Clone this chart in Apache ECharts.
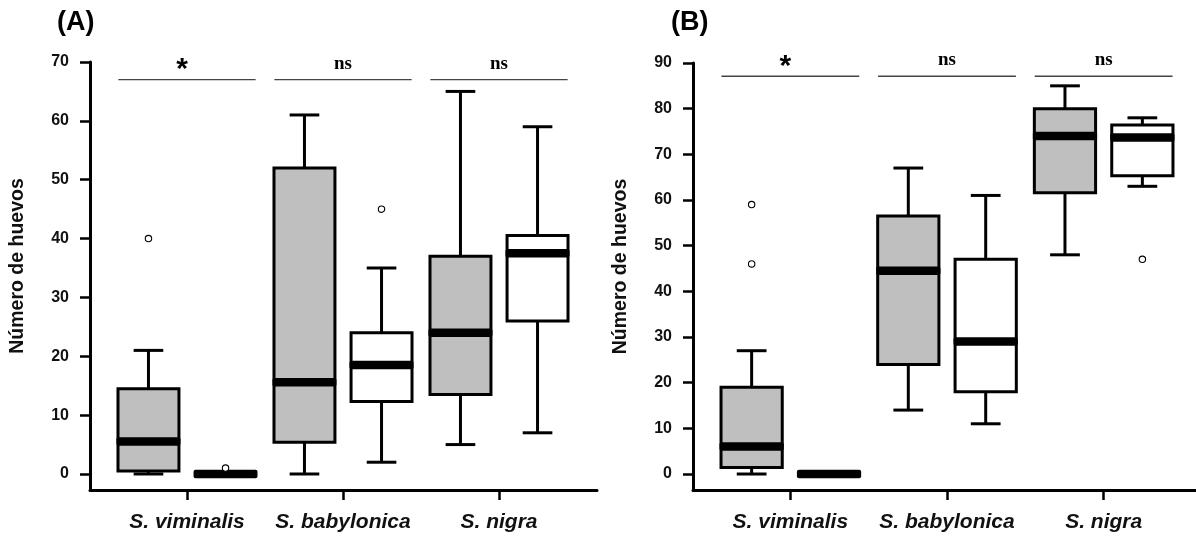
<!DOCTYPE html>
<html><head><meta charset="utf-8">
<script src="https://cdn.jsdelivr.net/npm/echarts@6/dist/echarts.min.js"></script>
<style>html,body{margin:0;padding:0;background:#fff}#c{width:1196px;height:536px}</style>
</head><body><div id="c"></div>
<script>
// ---- data ----
const categories = ['S. viminalis', 'S. babylonica', 'S. nigra'];
const yTicksA = [0, 10, 20, 30, 40, 50, 60, 70];
const yTicksB = [0, 10, 20, 30, 40, 50, 60, 70, 80, 90];
// each row: [min, q1, median, q3, max]
const boxAGrey  = [[0, 0.5, 5.5, 14.5, 21], [0, 5.4, 15.6, 52, 61], [5, 13.5, 24, 37, 65]];
const boxAWhite = [[0, 0, 0, 0, 0], [2, 12.3, 18.5, 24, 35], [7, 26, 37.5, 40.5, 59]];
const outAGrey  = [[0, 40]];
const outAWhite = [[0, 1], [1, 45]];
const boxBGrey  = [[0, 1.4, 6, 19, 27], [14, 24, 44.5, 56.5, 67], [48, 61.6, 74, 80, 85]];
const boxBWhite = [[0, 0, 0, 0, 0], [11, 18, 29, 47, 61], [63, 65.3, 73.7, 76.4, 78]];
const outBGrey  = [[0, 59], [0, 46]];
const outBWhite = [[2, 47]];
const sigLabels = ['*', 'ns', 'ns'];
const sigLevelA = 67;
const sigLevelB = 87.1;
const yName = 'Número de huevos';

// ---- styling constants ----
const SANS = '"Liberation Sans", Arial, sans-serif';
const SERIF = '"Liberation Serif", "Times New Roman", serif';
const LW = 3;
const BOX_W = 0.41;
const OFF = 0.247;
const CAP_W = 0.19;
const MED_H = 8.5;
const GREY = '#bfbfbf';

function makeBox(offset, fill) {
  return function (params, api) {
    const i = api.value(0);
    const band = api.size([1, 0])[0];
    const cx = api.coord([i, 0])[0] + offset * band;
    const outerW = BOX_W * band;
    const w = outerW - LW;
    const y = k => api.coord([i, api.value(k)])[1];
    const yMin = y(1), yQ1 = y(2), yMed = y(3), yQ3 = y(4), yMax = y(5);
    const capHalf = CAP_W * band / 2;
    const ls = { stroke: '#000', lineWidth: LW, fill: null };
    const ch = [];
    if (yMax < yQ3 - 0.5) {
      ch.push({ type: 'line', shape: { x1: cx, y1: yQ3, x2: cx, y2: yMax }, style: ls });
      ch.push({ type: 'line', shape: { x1: cx - capHalf, y1: yMax, x2: cx + capHalf, y2: yMax }, style: ls });
    }
    if (yMin > yQ1 + 0.5) {
      ch.push({ type: 'line', shape: { x1: cx, y1: yQ1, x2: cx, y2: yMin }, style: ls });
    }
    if (yMin > yQ1 + 0.5 || api.value(1) === 0 && api.value(2) > 0) {
      ch.push({ type: 'line', shape: { x1: cx - capHalf, y1: yMin, x2: cx + capHalf, y2: yMin }, style: ls });
    }
    ch.push({ type: 'rect', shape: { x: cx - w / 2, y: yQ3, width: w, height: Math.max(0, yQ1 - yQ3) },
      style: { fill: fill, stroke: '#000', lineWidth: LW } });
    ch.push({ type: 'rect', shape: { x: cx - outerW / 2, y: yMed - MED_H / 2, width: outerW, height: MED_H, r: 2 },
      style: { fill: '#000' } });
    return { type: 'group', children: ch };
  };
}

function makeOutlier(offset) {
  return function (params, api) {
    const i = api.value(0);
    const band = api.size([1, 0])[0];
    const p = api.coord([i, api.value(1)]);
    return { type: 'circle', shape: { cx: p[0] + offset * band, cy: p[1], r: 3.2 },
      style: { fill: '#fff', stroke: '#000', lineWidth: 1.1 } };
  };
}

function renderSig(params, api) {
  const i = api.value(0);
  const band = api.size([1, 0])[0];
  const p = api.coord([i, api.value(1)]);
  const half = 0.44 * band;
  const lab = sigLabels[params.dataIndex];
  const star = lab === '*';
  return { type: 'group', children: [
    { type: 'line', shape: { x1: p[0] - half, y1: p[1], x2: p[0] + half, y2: p[1] },
      style: { stroke: '#444', lineWidth: 1.3 } },
    { type: 'text', x: p[0] - (star ? 5 : 0), y: p[1] - (star ? 10 : 16),
      style: { text: lab, textAlign: 'center', textVerticalAlign: 'middle',
        font: star ? ('bold 30px ' + SANS) : ('bold 19px ' + SERIF), fill: '#000' } }
  ]};
}

function frameX(g) {
  return { gridIndex: g, type: 'value', min: 0, max: 1,
    axisLine: { show: true, onZero: false, lineStyle: { color: '#000', width: LW } },
    axisTick: { show: false }, axisLabel: { show: false }, splitLine: { show: false } };
}
function dataX(g) {
  return { gridIndex: g, type: 'category', data: categories,
    axisLine: { show: false, onZero: false },
    axisTick: { show: true, alignWithLabel: true, length: 10, lineStyle: { color: '#000', width: 2.5 } },
    axisLabel: { interval: 0, margin: 22, color: '#111', fontFamily: SANS, fontWeight: 'bold', fontStyle: 'italic', fontSize: 21 },
    splitLine: { show: false } };
}
function frameY(g, min, max, ticks) {
  return { gridIndex: g, type: 'value', min: min, max: max,
    name: yName, nameLocation: 'middle', nameGap: 62, nameRotate: 90,
    nameTextStyle: { fontFamily: SANS, fontWeight: 'bold', fontSize: 19.5, color: '#111', padding: [0, 0, 0, 20] },
    axisLine: { show: true, lineStyle: { color: '#000', width: LW } },
    axisTick: { show: true, length: 10, customValues: ticks, lineStyle: { color: '#000', width: 2.5 } },
    axisLabel: { customValues: ticks, margin: 21, color: '#111', fontFamily: SANS, fontWeight: 'bold', fontSize: 16 },
    splitLine: { show: false } };
}
function dataY(g, min, max) {
  return { gridIndex: g, type: 'value', min: min, max: max, show: false, splitLine: { show: false } };
}

function boxSeries(ax, rows, offset, fill) {
  return { type: 'custom', xAxisIndex: ax, yAxisIndex: ax, clip: false, z: 2,
    renderItem: makeBox(offset, fill), encode: { x: 0, y: [1, 2, 3, 4, 5] },
    data: rows.map((r, i) => [i].concat(r)) };
}
function outSeries(ax, rows, offset) {
  return { type: 'custom', xAxisIndex: ax, yAxisIndex: ax, clip: false, z: 3,
    renderItem: makeOutlier(offset), encode: { x: 0, y: 1 }, data: rows };
}
function sigSeries(ax, level) {
  return { type: 'custom', xAxisIndex: ax, yAxisIndex: ax, clip: false, z: 2,
    renderItem: renderSig, encode: { x: 0, y: 1 },
    data: categories.map((c, i) => [i, level]) };
}

const minA = -2.72, maxA = 70, minB = -3.5, maxB = 90;

const option = {
  animation: false,
  backgroundColor: '#fff',
  title: [
    { text: '(A)', left: 57, top: 9, padding: 0, textStyle: { fontFamily: SANS, fontWeight: 'bold', fontSize: 27, color: '#000' } },
    { text: '(B)', left: 671, top: 9, padding: 0, textStyle: { fontFamily: SANS, fontWeight: 'bold', fontSize: 27, color: '#000' } }
  ],
  grid: [
    { left: 90, top: 62, width: 507, height: 428 },
    { left: 109, top: 62, width: 468, height: 428 },
    { left: 693, top: 63, width: 503, height: 427 },
    { left: 712, top: 63, width: 470, height: 427 }
  ],
  xAxis: [frameX(0), dataX(1), frameX(2), dataX(3)],
  yAxis: [frameY(0, minA, maxA, yTicksA), dataY(1, minA, maxA), frameY(2, minB, maxB, yTicksB), dataY(3, minB, maxB)],
  series: [
    boxSeries(1, boxAGrey, -OFF, GREY),
    boxSeries(1, boxAWhite, OFF, '#fff'),
    outSeries(1, outAGrey, -OFF),
    outSeries(1, outAWhite, OFF),
    sigSeries(1, sigLevelA),
    boxSeries(3, boxBGrey, -OFF, GREY),
    boxSeries(3, boxBWhite, OFF, '#fff'),
    outSeries(3, outBGrey, -OFF),
    outSeries(3, outBWhite, OFF),
    sigSeries(3, sigLevelB)
  ]
};
const chart = echarts.init(document.getElementById('c'), null, { renderer: 'canvas' });
chart.setOption(option);
</script>
</body></html>
